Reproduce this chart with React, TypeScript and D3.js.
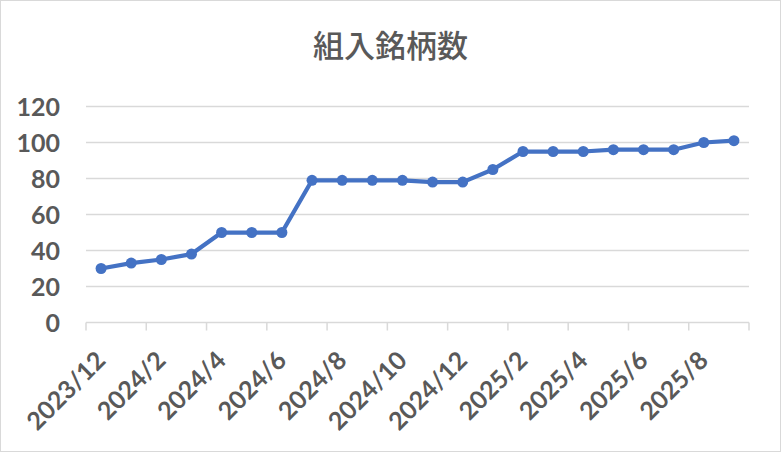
import React from "react";
import * as d3 from "d3";

const months = [
  "2023/12", "2024/1", "2024/2", "2024/3", "2024/4", "2024/5", "2024/6", "2024/7",
  "2024/8", "2024/9", "2024/10", "2024/11", "2024/12", "2025/1", "2025/2", "2025/3",
  "2025/4", "2025/5", "2025/6", "2025/7", "2025/8", "2025/9",
];
const holdings = [30, 33, 35, 38, 50, 50, 50, 79, 79, 79, 79, 78, 78, 85, 95, 95, 95, 96, 96, 96, 100, 101];
const yTicks = [0, 20, 40, 60, 80, 100, 120];
const title = "組入銘柄数";

const W = 781;
const H = 452;
const plot = { left: 86, right: 749, top: 106.5, bottom: 322.5 };
const GRAY = "#d9d9d9";
const TEXT = "#595959";
const BLUE = "#4472C4";
const FONT = "Lato, 'Noto Sans', sans-serif";

export default function App() {
  const x = d3.scaleBand<string>().domain(months).range([plot.left, plot.right]).padding(0);
  const y = d3.scaleLinear().domain([0, 120]).range([plot.bottom, plot.top]);
  const cx = (m: string) => (x(m) as number) + x.bandwidth() / 2;

  const line = d3
    .line<number>()
    .x((_, i) => cx(months[i]))
    .y((d) => y(d));

  const tickIdx = d3.range(0, months.length + 1, 2);
  const labelIdx = d3.range(0, months.length, 2);

  return (
    <>
      <style>{`body{margin:0}`}</style>
      <svg width={W} height={H} style={{ display: "block" }}>
        <rect x={0.5} y={0.5} width={W - 1} height={H - 1} fill="#fff" stroke={GRAY} strokeWidth={1} />
        <text
          x={W / 2}
          y={57}
          textAnchor="middle"
          fontFamily="'Noto Sans CJK JP', sans-serif"
          fontSize={31}
          fontWeight={500}
          fill={TEXT}
        >
          {title}
        </text>
        {yTicks.map((t) => (
          <g key={t}>
            {t !== 0 && (
              <line x1={plot.left} x2={plot.right} y1={y(t)} y2={y(t)} stroke={GRAY} strokeWidth={1.5} />
            )}
            <text
              x={60}
              y={y(t) + 9.5}
              textAnchor="end"
              fontFamily={FONT}
              fontWeight={700}
              fontSize={25}
              fill={TEXT}
            >
              {t}
            </text>
          </g>
        ))}
        <line x1={plot.left} x2={plot.right} y1={y(0)} y2={y(0)} stroke={GRAY} strokeWidth={1.5} />
        {tickIdx.map((i) => {
          const xx = plot.left + i * x.bandwidth();
          return <line key={i} x1={xx} x2={xx} y1={y(0)} y2={y(0) + 8} stroke={GRAY} strokeWidth={1.5} />;
        })}
        {labelIdx.map((i) => (
          <text
            key={i}
            transform={`translate(${cx(months[i]) + 6},${362}) rotate(-45)`}
            textAnchor="end"
            fontFamily={FONT}
            fontWeight={700}
            fontSize={25}
            fill={TEXT}
          >
            {months[i]}
          </text>
        ))}
        <path d={line(holdings) || ""} fill="none" stroke={BLUE} strokeWidth={4.25} strokeLinejoin="round" />
        {holdings.map((v, i) => (
          <circle key={i} cx={cx(months[i])} cy={y(v)} r={5.5} fill={BLUE} />
        ))}
      </svg>
    </>
  );
}
